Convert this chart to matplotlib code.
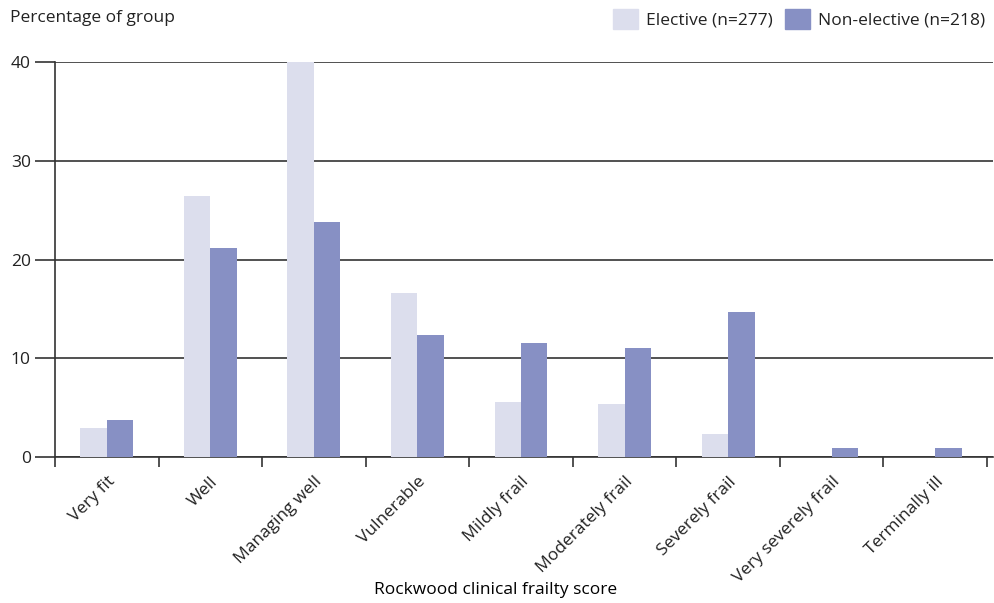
import numpy as np
import matplotlib.pyplot as plt
from matplotlib.patches import Patch

plt.rcParams['font.family'] = ['Open Sans', 'DejaVu Sans']
plt.rcParams['text.color'] = "#222222"
plt.rcParams['xtick.labelcolor'] = "#222222"
plt.rcParams['ytick.labelcolor'] = "#222222"

categories = ["Very fit", "Well", "Managing well", "Vulnerable", "Mildly frail",
              "Moderately frail", "Severely frail", "Very severely frail", "Terminally ill"]
elective = [2.9, 26.4, 40.1, 16.6, 5.6, 5.4, 2.3, 0, 0]
non_elective = [3.7, 21.2, 23.8, 12.4, 11.5, 11.0, 14.7, 0.9, 0.9]

c_el = "#dcdeed"
c_nel = "#8790c4"
fs = 12.5

fig = plt.figure(figsize=(9.94, 6.03), dpi=100)
ax = fig.add_axes([55/994, (603-457)/603, (993-55)/994, (457-62)/603])

x = np.arange(len(categories))
w = 0.255
ax.bar(x - w/2, elective, w, color=c_el, zorder=3)
ax.bar(x + w/2, non_elective, w, color=c_nel, zorder=3)

ax.set_ylim(0, 40)
ax.set_xlim(-0.5, 8.5 + 6/103.6)
ax.set_yticks([0, 10, 20, 30, 40])
ax.yaxis.grid(True, color="#333333", linewidth=1.2, zorder=0)
ax.tick_params(axis="y", length=14.4, width=1.2, color="#333333", labelsize=fs, pad=3)

ax.set_xticks(x)
ax.set_xticklabels(categories, rotation=45, ha="right", rotation_mode="anchor", fontsize=fs)
ax.tick_params(axis="x", which="major", length=0, pad=12)
ax.set_xticks(np.arange(-0.5, 9, 1), minor=True)
ax.tick_params(axis="x", which="minor", length=7, width=1.2, color="#333333")

for s in ["top", "right"]:
    ax.spines[s].set_visible(False)
ax.spines["left"].set_color("#333333")
ax.spines["bottom"].set_color("#333333")
ax.spines["left"].set_linewidth(1.2)
ax.spines["bottom"].set_linewidth(1.2)
ax.spines["left"].set_bounds(0, 40)

ax.set_xlabel("Rockwood clinical frailty score", fontsize=fs)
ax.xaxis.label.set_va("center")
ax.xaxis.set_label_coords((496-55)/(993-55), -(590-457)/(457-62))
fig.text(10/994, 1 - 18/603, "Percentage of group", fontsize=fs, va="center", ha="left")

handles = [Patch(color=c_el, label="Elective (n=277)"),
           Patch(color=c_nel, label="Non-elective (n=218)")]
fig.legend(handles=handles, loc="upper right", bbox_to_anchor=(1.0, 1.0), ncol=2,
           frameon=False, fontsize=fs, handlelength=1.45, handleheight=1.45,
           handletextpad=0.45, columnspacing=0.7, borderaxespad=0.1)

fig.savefig("out.png", dpi=100)
